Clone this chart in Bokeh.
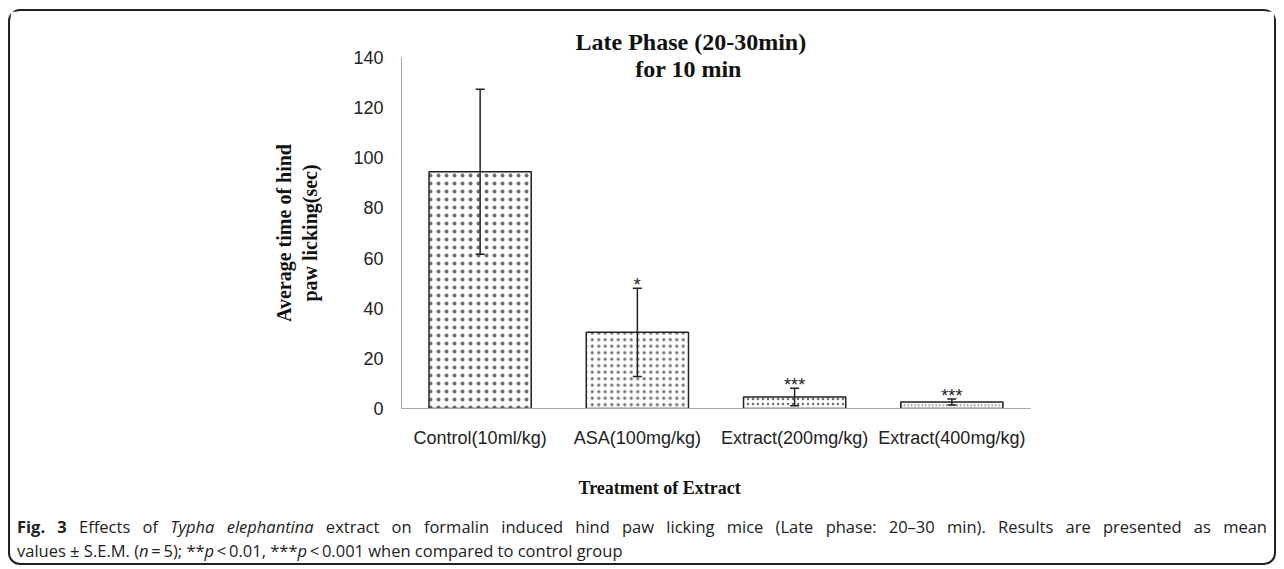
from bokeh.plotting import figure
from bokeh.models import (ColumnDataSource, Whisker, TeeHead, Label, FactorRange,
                          Range1d, Div, FixedTicker, Title)
from bokeh.layouts import column
from bokeh.embed import file_html
from bokeh.resources import INLINE
from bokeh.core.properties import value

# ---------------- data ----------------
categories = ["Control(10ml/kg)", "ASA(100mg/kg)", "Extract(200mg/kg)", "Extract(400mg/kg)"]
means = [94.4, 30.4, 4.6, 2.6]
sems = [32.9, 17.6, 3.5, 1.2]
significance = ["", "*", "***", "***"]
y_ticks = [0, 20, 40, 60, 80, 100, 120, 140]

title_lines = ["Late Phase (20-30min)", "for 10 min"]
y_label = "Average time of hind\npaw licking(sec)"
x_label = "Treatment of Extract"
caption_line1 = ("<b>Fig. 3</b> Effects of <i>Typha elephantina</i> extract on formalin induced hind paw "
                 "licking mice (Late phase: 20\u201330 min). Results are presented as mean")
caption_line2 = ("values \u00b1 S.E.M. (<i>n</i>\u2009=\u20095); **<i>p</i>\u2009&lt;\u20090.01, "
                 "***<i>p</i>\u2009&lt;\u20090.001 when compared to control group")

# ---------------- styles ----------------
hatch_scales = [8, 6.5, 5, 3.5]

upper = [m + s for m, s in zip(means, sems)]
lower = [m - s for m, s in zip(means, sems)]
src = ColumnDataSource(dict(x=categories, top=means, upper=upper, lower=lower,
                            sig=significance, hs=hatch_scales))

W, H = 1264, 514
FL, FR = 391, 1020
FT, FB = 46, 397

p = figure(x_range=FactorRange(*categories, range_padding=0), y_range=Range1d(0, 140),
           width=W, height=H, output_backend="svg", toolbar_location=None,
           min_border_left=FL, min_border_right=W - FR, min_border_top=FT,
           min_border_bottom=H - FB)

p.title.text = title_lines[0]
p.title.align = "left"
p.title.offset = 174
p.title.standoff = 5
p.title.text_font = "Liberation Serif"
p.title.text_font_style = "bold"
p.title.text_font_size = "24px"
p.title.text_color = "#111111"

p.vbar(x="x", top="top", width=0.65, source=src, fill_color="white", line_color="#222222",
       line_width=1.5, hatch_pattern="dot", hatch_scale="hs", hatch_color="#222222",
       hatch_weight=0.2, hatch_alpha=0.65)

wh = Whisker(base="x", upper="upper", lower="lower", source=src, line_color="#222222",
             line_width=1.5, level="annotation",
             upper_head=TeeHead(size=9, line_color="#222222", line_width=1.5),
             lower_head=TeeHead(size=9, line_color="#222222", line_width=1.5))
p.add_layout(wh)

p.text(x="x", y="upper", text="sig", source=src, text_align="center",
       text_baseline="alphabetic", text_font=value("Liberation Sans"), text_font_size="18px",
       y_offset=-3, text_color="#222222")

p.xgrid.visible = False
p.ygrid.visible = False
p.outline_line_color = None
p.yaxis.ticker = FixedTicker(ticks=y_ticks)
for ax in (p.xaxis[0], p.yaxis[0]):
    ax.axis_line_color = "#a6a6a6"
    ax.axis_line_width = 1
    ax.major_tick_line_color = None
    ax.major_tick_out = 0
    ax.major_tick_in = 0
    ax.minor_tick_line_color = None
    ax.minor_tick_out = 0
    ax.major_label_text_font = "Liberation Sans"
    ax.major_label_text_font_size = "18px"
    ax.major_label_text_color = "#222222"
p.yaxis.major_label_standoff = 18
p.xaxis.major_label_standoff = 19

p.yaxis.axis_label = y_label
p.yaxis.axis_label_standoff = 29
p.yaxis.axis_label_text_font = "Liberation Serif"
p.yaxis.axis_label_text_font_style = "bold"
p.yaxis.axis_label_text_font_size = "20px"
p.yaxis.axis_label_text_color = "#111111"
p.yaxis.axis_label_text_align = "center"

# second title line sits inside the frame area
p.add_layout(Label(x=688 - 401, y=408 - 68, x_units="screen", y_units="screen",
                   text=title_lines[1], text_align="center", text_baseline="middle",
                   text_font="Liberation Serif", text_font_style="bold",
                   text_font_size="24px", text_color="#111111"))

xt = Title(text=x_label, align="left", offset=177, standoff=50,
           text_font="Liberation Serif", text_font_style="bold", text_font_size="18px",
           text_color="#111111")
p.add_layout(xt, "below")

cap_style = {"font-family": "'Open Sans', sans-serif", "font-size": "16.5px",
             "line-height": "24px", "color": "#222222", "white-space": "nowrap"}
line1 = ('<div style="width:1250px;text-align:justify;text-align-last:justify;'
         'white-space:normal;">' + caption_line1 + '</div>')
line2 = '<div>' + caption_line2 + '</div>'
div = Div(text=line1 + line2, width=W - 7, height=48, margin=(-10, 0, 0, 0),
          styles=dict(cap_style, **{"padding-left": "7px", "overflow": "visible"}))

layout = column(p, div, margin=(9, 0, 0, 8),
                styles={"border": "2px solid #222222", "border-radius": "12px"})

open("out.html", "w").write(file_html(layout, INLINE))
